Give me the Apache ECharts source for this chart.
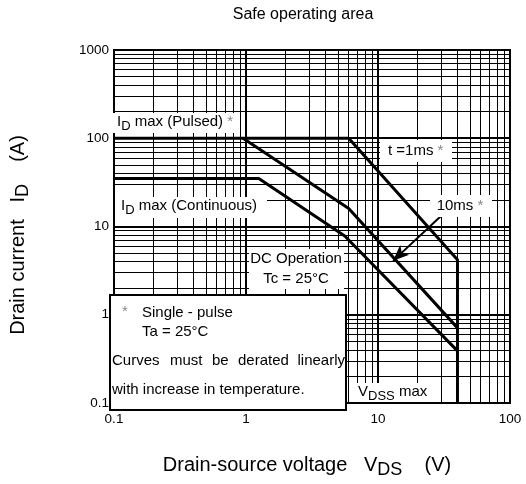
<!DOCTYPE html>
<html><head><meta charset="utf-8">
<script src="https://cdn.jsdelivr.net/npm/echarts@6/dist/echarts.min.js"></script>
<style>html,body{margin:0;padding:0;background:#fff}#c{width:526px;height:484px}</style>
</head><body><div id="c"></div>
<script>
const xTickValues = [0.1, 1, 10, 100];
const xTickLabels = ['0.1', '1', '10', '100'];
const yTickValues = [0.1, 1, 10, 100, 1000];
const yTickLabels = ['0.1', '1', '10', '100', '1000'];
const pulsedV = [0.1, 6, 40, 40];
const pulsedI = [100, 100, 4.2, 0.1];
const tenMsV = [0.95, 6, 40];
const tenMsI = [100, 16, 0.71];
const dcV = [0.1, 1.25, 5.6, 40];
const dcI = [35, 35, 7.8, 0.39];
const arrowFrom = [31.6, 14.1];
const arrowTo = [13, 4.08];
const minorMultipliers = [2, 3, 4, 5, 6, 7, 8, 9];
const xDecades = [0.1, 1, 10];
const yDecades = [0.1, 1, 10, 100];

const FONT = "'Liberation Sans', Arial, sans-serif";
const chart = echarts.init(document.getElementById('c'), null, {renderer: 'canvas'});

function zip(a, b) { return a.map((v, i) => [v, b[i]]); }
function labelFor(vals, labels) {
  return function (v) {
    for (let i = 0; i < vals.length; i++) {
      if (Math.abs(Math.log10(v) - Math.log10(vals[i])) < 1e-6) return labels[i];
    }
    return '';
  };
}

const gridLines = [];
xDecades.forEach(d => {
  minorMultipliers.forEach(m => gridLines.push({xAxis: d * m, lineStyle: {width: 1}}));
  if (d > 0.1) gridLines.push({xAxis: d, lineStyle: {width: 2}});
});
yDecades.forEach(d => {
  minorMultipliers.forEach(m => gridLines.push({yAxis: d * m, lineStyle: {width: 1}}));
  if (d > 0.1) gridLines.push({yAxis: d, lineStyle: {width: 2}});
});

const sub = {fontSize: 13, fontFamily: FONT, fill: '#000', color: '#000', padding: [8, 0, 0, 0]};
const gray = {fontSize: 15, fontFamily: FONT, fill: '#888', color: '#888'};

function box(x, y, w, h, stroke) {
  return {type: 'rect', z: 50, silent: true, shape: {x, y, width: w, height: h},
    style: {fill: '#fff', stroke: stroke ? '#000' : null, lineWidth: stroke ? 2 : 0}};
}
function txt(text, x, y, align) {
  return {type: 'text', z: 60, silent: true,
    style: {text, x, y, fontSize: 15, fontFamily: FONT, fill: '#000',
      textAlign: align || 'left', textVerticalAlign: 'middle', rich: {sub, g: gray}}};
}

const option = {
  animation: false,
  backgroundColor: '#fff',
  grid: {left: 110, right: 16, top: 50, bottom: 74, show: true, borderColor: '#000', borderWidth: 2},
  xAxis: {
    type: 'log', logBase: 10, min: 0.1, max: 100,
    name: 'Drain-source voltage   V{sub|DS}    (V)',
    nameLocation: 'middle', nameGap: 48,
    nameTextStyle: {fontSize: 20, fontFamily: FONT, color: '#000', padding: [0, 10, 0, 0],
      rich: {sub: {fontSize: 18, fontFamily: FONT, color: '#000', padding: [10, 0, 0, 0]}}},
    axisLine: {show: true, lineStyle: {color: '#000', width: 2}},
    axisTick: {show: false},
    splitLine: {show: false},
    axisLabel: {fontSize: 13.5, fontFamily: FONT, color: '#000', margin: 9,
      formatter: labelFor(xTickValues, xTickLabels)}
  },
  yAxis: {
    type: 'log', logBase: 10, min: 0.1, max: 1000,
    name: 'Drain current   I{sub|D}    (A)',
    nameLocation: 'middle', nameGap: 82,
    nameTextStyle: {fontSize: 20, fontFamily: FONT, color: '#000', padding: [0, 17, 0, 0],
      rich: {sub: {fontSize: 18, fontFamily: FONT, color: '#000', padding: [10, 0, 0, 0]}}},
    axisLine: {show: true, lineStyle: {color: '#000', width: 2}},
    axisTick: {show: false},
    splitLine: {show: false},
    axisLabel: {fontSize: 13.5, fontFamily: FONT, color: '#000', margin: 5,
      formatter: labelFor(yTickValues, yTickLabels)}
  },
  series: [
    {type: 'line', data: [[0.1, 0.1]], showSymbol: false, symbol: 'none', lineStyle: {width: 0}, z: 1,
      markLine: {silent: true, symbol: ['none', 'none'], label: {show: false},
        lineStyle: {color: '#000', type: 'solid', width: 1}, data: gridLines, animation: false}},
    {name: 'DC', type: 'line', data: zip(dcV, dcI), symbol: 'none', z: 10,
      lineStyle: {color: '#000', width: 3}},
    {name: '10ms', type: 'line', data: zip(tenMsV, tenMsI), symbol: 'none', z: 10,
      lineStyle: {color: '#000', width: 3}},
    {name: '1ms', type: 'line', data: zip(pulsedV, pulsedI), symbol: 'none', z: 10,
      lineStyle: {color: '#000', width: 3}},
    {type: 'line', data: [], z: 20,
      markLine: {silent: true, symbol: ['none', 'arrow'], symbolSize: [10, 16], label: {show: false},
        lineStyle: {color: '#000', type: 'solid', width: 2}, animation: false,
        data: [[{coord: arrowFrom}, {coord: arrowTo}]]}}
  ],
  graphic: [
    {type: 'text', z: 60, silent: true, style: {text: 'Safe operating area', x: 303, y: 15,
      fontSize: 16, fontFamily: FONT, fill: '#000', textAlign: 'center', textVerticalAlign: 'middle'}},
    box(113, 113, 124, 20),
    txt('I{sub|D} max (Pulsed) {g|*}', 117, 122),
    box(380, 140, 72, 22),
    txt('t =1ms {g|*}', 388, 151),
    box(115, 197, 152, 21),
    txt('I{sub|D} max (Continuous)', 121, 206),
    box(430, 195, 62, 22),
    txt('10ms {g|*}', 460, 206, 'center'),
    box(249, 249, 95, 40),
    txt('DC Operation', 296, 259, 'center'),
    txt('Tc = 25°C', 296, 279, 'center'),
    box(110, 295, 236, 115, true),
    txt('{g|*}', 122, 312),
    txt('Single - pulse', 142, 313),
    txt('Ta = 25°C', 142, 332),
    txt('Curves', 112, 361),
    txt('must', 170, 361),
    txt('be', 212, 361),
    txt('derated', 238, 361),
    txt('linearly', 345, 361, 'right'),
    txt('with increase in temperature.', 112, 390),
    box(355, 383, 82, 19),
    txt('V{sub|DSS} max', 358, 392)
  ]
};
chart.setOption(option);
</script>
</body></html>
